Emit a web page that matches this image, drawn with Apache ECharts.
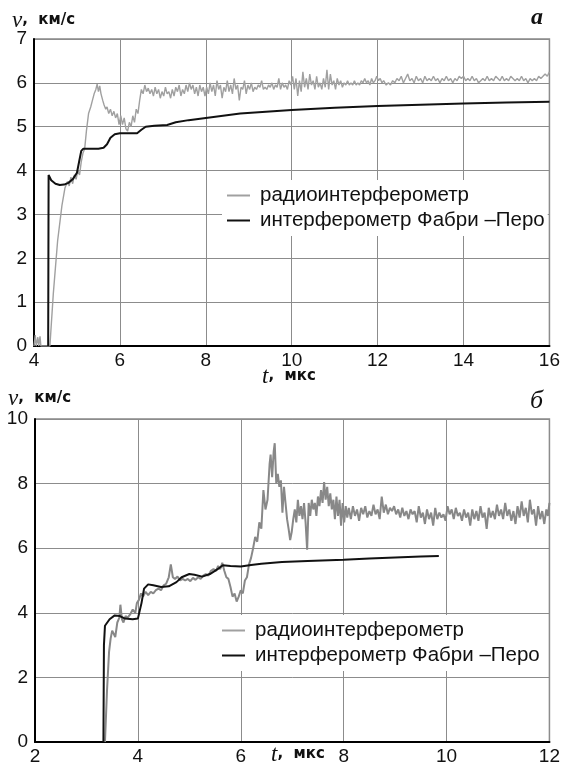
<!DOCTYPE html>
<html><head><meta charset="utf-8">
<script src="https://cdn.jsdelivr.net/npm/echarts@6/dist/echarts.min.js"></script>
<style>html,body{margin:0;padding:0;background:#fff}#c{width:563px;height:771px}</style>
</head><body><div id="c"></div>
<script>
// ---- panel a ----
const aRadio = [[4.0,0],[4.03,0.25],[4.05,0],[4.09,0.2],[4.11,0],[4.14,0.22],[4.16,0],[4.37,0],[4.45,1.2],[4.55,2.4],[4.65,3.2],[4.72,3.6],[4.78,3.75],[4.82,3.65],[4.86,3.85],[4.9,3.7],[4.94,3.9],[4.98,3.8],[5.02,4.0],[5.06,3.9],[5.1,4.2],[5.14,4.4],[5.18,4.5],[5.22,4.9],[5.27,5.3],[5.32,5.45],[5.36,5.6],[5.4,5.75],[5.44,5.85],[5.47,5.97],[5.5,5.8],[5.53,5.93],[5.56,5.75],[5.6,5.6],[5.63,5.5],[5.67,5.4],[5.7,5.45],[5.74,5.3],[5.78,5.4],[5.82,5.25],[5.86,5.35],[5.9,5.2],[5.94,5.3],[5.98,5.05],[6.02,5.25],[6.06,5.05],[6.1,5.2],[6.14,4.95],[6.18,4.9],[6.22,5.1],[6.26,5.0],[6.3,5.25],[6.34,5.1],[6.38,5.4],[6.42,5.3],[6.46,5.6],[6.5,5.85],[6.54,5.75],[6.58,5.95],[6.62,5.8],[6.66,5.88],[6.7,5.75],[6.74,5.85],[6.78,5.7],[6.82,5.9],[6.86,5.75],[6.9,5.85],[6.94,5.65],[6.98,5.8],[7.02,5.7],[7.06,5.9],[7.1,5.75],[7.14,5.8],[7.18,5.65],[7.22,5.85],[7.26,5.7],[7.3,5.9],[7.34,5.8],[7.38,5.95],[7.42,5.7],[7.46,5.85],[7.5,5.75],[7.54,5.95],[7.58,5.8],[7.62,6.0],[7.66,5.85],[7.7,5.95],[7.74,5.75],[7.78,5.9],[7.82,5.7],[7.86,5.95],[7.9,5.8],[7.94,5.9],[7.98,5.7],[8.02,5.9],[8.06,5.75],[8.1,6.0],[8.14,5.8],[8.18,5.95],[8.22,5.7],[8.26,6.05],[8.3,5.85],[8.34,5.95],[8.38,5.65],[8.42,5.9],[8.46,5.8],[8.5,6.05],[8.54,5.8],[8.58,5.95],[8.62,5.75],[8.66,6.1],[8.7,5.85],[8.74,5.95],[8.78,5.6],[8.82,5.9],[8.86,5.85],[8.9,6.05],[8.94,5.75],[8.98,5.95],[9.02,5.85],[9.06,6.0],[9.1,5.8],[9.14,5.9],[9.18,5.85],[9.22,5.95],[9.26,5.9],[9.3,6.05],[9.34,5.85],[9.38,5.9],[9.42,5.85],[9.46,5.95],[9.5,5.9],[9.54,6.0],[9.58,5.85],[9.62,5.95],[9.66,5.9],[9.7,6.1],[9.74,5.85],[9.78,6.0],[9.82,5.9],[9.86,5.95],[9.9,5.85],[9.94,6.05],[9.98,5.95],[10.02,6.15],[10.06,5.85],[10.1,6.1],[10.14,5.7],[10.18,6.05],[10.22,5.8],[10.26,6.25],[10.3,5.9],[10.34,6.1],[10.38,5.85],[10.42,6.2],[10.46,5.95],[10.5,6.05],[10.54,5.85],[10.58,6.15],[10.62,5.9],[10.66,6.0],[10.7,5.85],[10.74,6.1],[10.78,5.9],[10.82,6.3],[10.86,5.85],[10.9,6.2],[10.94,5.95],[10.98,6.05],[11.02,5.85],[11.06,6.1],[11.1,5.95],[11.14,6.05],[11.18,5.9],[11.22,6.0],[11.26,5.95],[11.3,6.05],[11.34,5.95],[11.38,6.0],[11.42,5.95],[11.46,6.05],[11.5,5.95],[11.54,6.0],[11.58,5.95],[11.62,6.05],[11.66,6.0],[11.7,6.1],[11.74,6.0],[11.78,6.05],[11.82,5.95],[11.86,6.1],[11.9,6.0],[11.94,6.05],[11.98,6.15],[12.02,6.05],[12.06,6.1],[12.1,6.0],[12.14,6.05],[12.2,5.95],[12.25,6.0],[12.3,5.95],[12.35,6.05],[12.4,6.0],[12.45,6.1],[12.5,6.05],[12.55,6.15],[12.6,6.0],[12.65,6.1],[12.7,6.2],[12.75,6.05],[12.8,6.1],[12.85,6.0],[12.9,6.15],[12.95,6.05],[13.0,6.1],[13.05,6.0],[13.1,6.15],[13.15,6.05],[13.2,6.1],[13.25,6.05],[13.3,6.15],[13.35,6.05],[13.4,6.1],[13.45,6.0],[13.5,6.1],[13.55,6.05],[13.6,6.15],[13.65,6.05],[13.7,6.1],[13.75,6.0],[13.8,6.1],[13.85,6.05],[13.9,6.15],[13.95,6.1],[14.0,6.15],[14.05,6.05],[14.1,6.1],[14.15,6.05],[14.2,6.15],[14.25,6.05],[14.3,6.1],[14.35,6.0],[14.4,6.05],[14.45,6.1],[14.5,6.05],[14.55,6.15],[14.6,6.05],[14.65,6.1],[14.7,6.05],[14.75,6.15],[14.8,6.1],[14.85,6.05],[14.9,6.15],[14.95,6.05],[15.0,6.1],[15.05,6.05],[15.1,6.15],[15.15,6.1],[15.2,6.05],[15.25,6.1],[15.3,6.05],[15.35,6.15],[15.4,6.05],[15.45,6.1],[15.5,6.0],[15.55,6.1],[15.6,6.05],[15.65,6.1],[15.7,6.05],[15.75,6.15],[15.8,6.1],[15.85,6.15],[15.9,6.2],[15.95,6.15],[16.0,6.25]];
const aFP = [[4.33,0],[4.34,3.9],[4.4,3.78],[4.5,3.7],[4.6,3.67],[4.7,3.68],[4.8,3.72],[4.9,3.8],[5.0,3.95],[5.05,4.2],[5.1,4.45],[5.15,4.5],[5.3,4.5],[5.5,4.5],[5.62,4.52],[5.7,4.6],[5.78,4.75],[5.88,4.83],[6.0,4.85],[6.4,4.85],[6.5,4.93],[6.6,5.0],[6.8,5.02],[7.1,5.04],[7.3,5.1],[7.6,5.15],[8.0,5.2],[8.8,5.3],[10,5.38],[11,5.43],[12,5.47],[13,5.5],[14,5.53],[15,5.55],[16,5.57]];
// ---- panel б ----
const bRadio = [[3.36,0],[3.4,1.6],[3.44,2.8],[3.47,3.2],[3.5,3.45],[3.53,3.35],[3.56,3.25],[3.6,3.7],[3.64,3.85],[3.66,4.25],[3.69,3.8],[3.72,3.7],[3.76,3.9],[3.8,3.85],[3.85,3.95],[3.9,4.1],[3.95,4.0],[3.98,4.3],[4.02,4.4],[4.06,4.6],[4.1,4.5],[4.15,4.65],[4.2,4.55],[4.25,4.65],[4.3,4.6],[4.35,4.7],[4.4,4.75],[4.45,4.7],[4.5,4.85],[4.55,4.9],[4.6,5.1],[4.64,5.5],[4.68,5.1],[4.72,5.05],[4.77,5.12],[4.82,5.0],[4.87,5.05],[4.92,5.0],[4.97,5.05],[5.02,4.98],[5.07,5.08],[5.12,5.02],[5.17,5.1],[5.22,5.05],[5.27,5.15],[5.32,5.2],[5.37,5.15],[5.42,5.3],[5.47,5.35],[5.52,5.3],[5.56,5.45],[5.6,5.35],[5.64,5.55],[5.68,5.3],[5.72,5.1],[5.76,5.05],[5.8,4.8],[5.84,4.5],[5.88,4.6],[5.92,4.35],[5.96,4.5],[6.0,4.7],[6.04,4.6],[6.08,5.0],[6.12,5.1],[6.16,5.5],[6.2,5.7],[6.24,6.0],[6.28,6.35],[6.32,6.2],[6.36,6.8],[6.4,6.6],[6.44,7.8],[6.48,7.2],[6.52,7.5],[6.56,8.6],[6.58,8.9],[6.61,8.2],[6.64,9.0],[6.66,9.25],[6.69,8.0],[6.72,8.3],[6.75,7.9],[6.78,8.1],[6.81,7.1],[6.84,7.9],[6.87,7.4],[6.9,6.9],[6.93,6.6],[6.96,6.25],[6.99,6.5],[7.02,6.9],[7.05,7.2],[7.08,6.8],[7.11,7.5],[7.14,7.0],[7.17,7.3],[7.2,6.9],[7.23,7.4],[7.26,6.8],[7.29,5.95],[7.32,7.4],[7.35,7.0],[7.38,7.5],[7.41,7.2],[7.44,7.4],[7.47,7.0],[7.5,7.6],[7.53,7.3],[7.56,7.8],[7.59,7.4],[7.62,8.05],[7.65,7.5],[7.68,7.9],[7.71,7.3],[7.74,7.7],[7.77,7.2],[7.8,7.5],[7.83,6.9],[7.86,7.6],[7.89,7.0],[7.92,7.5],[7.95,6.7],[7.98,7.4],[8.01,6.8],[8.04,7.3],[8.07,6.95],[8.1,7.25],[8.14,6.9],[8.18,7.3],[8.22,7.0],[8.26,7.2],[8.3,6.85],[8.34,7.25],[8.38,7.05],[8.42,7.3],[8.46,6.95],[8.5,7.15],[8.54,7.0],[8.58,7.35],[8.62,7.05],[8.66,7.2],[8.7,6.9],[8.74,7.6],[8.78,7.1],[8.82,7.35],[8.86,7.05],[8.9,7.25],[8.94,7.15],[8.98,7.3],[9.02,7.05],[9.06,7.2],[9.1,6.95],[9.14,7.25],[9.18,7.0],[9.22,7.15],[9.26,6.9],[9.3,7.2],[9.34,7.05],[9.38,7.15],[9.42,6.8],[9.46,7.3],[9.5,6.95],[9.54,7.1],[9.58,6.75],[9.62,7.2],[9.66,6.9],[9.7,7.1],[9.74,6.7],[9.78,7.25],[9.82,6.9],[9.86,7.1],[9.9,6.95],[9.94,7.05],[9.98,6.85],[10.02,7.3],[10.06,7.05],[10.1,7.2],[10.14,6.9],[10.18,7.25],[10.22,7.0],[10.26,7.1],[10.3,6.85],[10.34,7.2],[10.38,6.95],[10.42,7.1],[10.46,6.7],[10.5,7.2],[10.54,6.9],[10.58,7.15],[10.62,6.85],[10.66,7.3],[10.7,6.95],[10.74,7.1],[10.78,6.6],[10.82,7.25],[10.86,6.95],[10.9,7.15],[10.94,6.9],[10.98,7.35],[11.02,7.0],[11.06,7.2],[11.1,6.9],[11.14,7.4],[11.18,7.0],[11.22,7.2],[11.26,6.85],[11.3,7.15],[11.34,6.75],[11.38,7.3],[11.42,6.95],[11.46,7.45],[11.5,7.0],[11.54,7.25],[11.58,6.8],[11.62,7.5],[11.66,7.05],[11.7,7.2],[11.74,6.7],[11.78,7.3],[11.82,6.9],[11.86,7.15],[11.9,6.75],[11.94,7.2],[11.97,7.0],[12.0,7.4]];
const bFP = [[3.33,0],[3.34,3.0],[3.36,3.6],[3.45,3.8],[3.55,3.92],[3.65,3.9],[3.75,3.82],[3.9,3.8],[4.0,3.82],[4.07,4.3],[4.12,4.75],[4.2,4.88],[4.3,4.85],[4.45,4.8],[4.6,4.82],[4.75,4.95],[4.85,5.1],[5.0,5.2],[5.1,5.18],[5.25,5.12],[5.4,5.2],[5.55,5.35],[5.65,5.47],[5.8,5.45],[6.0,5.43],[6.2,5.48],[6.4,5.52],[6.8,5.57],[7.3,5.6],[8.0,5.64],[8.5,5.68],[9.0,5.71],[9.5,5.74],[9.85,5.76]];

const nameRadio = 'радиоинтерферометр';
const nameFP = 'интерферометр Фабри –Перо';

const chart = echarts.init(document.getElementById('c'), null, {renderer:'canvas'});
const lbl = {fontFamily:'Liberation Sans, Arial, sans-serif', fontSize:19, color:'#111'};
const axLine = {show:true, lineStyle:{color:'#000', width:2}};
const split = {show:true, lineStyle:{color:'#8c8c8c', width:1}};
function xAx(grid, min, max){return {type:'value', gridIndex:grid, min, max, interval:2, axisLine:axLine, axisTick:{show:false}, splitLine:split, axisLabel:Object.assign({margin:5}, lbl)};}
function yAx(grid, min, max, iv){return {type:'value', gridIndex:grid, min, max, interval:iv, axisLine:axLine, axisTick:{show:false}, splitLine:split, axisLabel:Object.assign({margin:7}, lbl)};}
const legendBase = {orient:'vertical', backgroundColor:'#fff', itemWidth:23, itemHeight:2, itemGap:4, icon:'rect',
  padding:[5,3,5,5], textStyle:{fontFamily:'Liberation Sans, Arial, sans-serif', fontSize:20.5, color:'#111', padding:[0,0,0,5]}, selectedMode:false, z:1};
function axisName(x, y, txt){return {type:'text', left:x, top:y, style:{rich:{v:{fontFamily:'Liberation Serif, serif', fontStyle:'italic', fontSize:23, fill:'#111'}, s:{fontFamily:'DejaVu Sans, sans-serif', fontSize:15, fill:'#111', fontWeight:'bold'}}, text:txt}};}
chart.setOption({
  animation:false,
  backgroundColor:'#fff',
  grid:[
    {left:34, right:5, top:39, height:307, show:true, borderColor:'#888', borderWidth:1.5},
    {left:35, right:6, top:419, height:323, show:true, borderColor:'#888', borderWidth:1.5}
  ],
  xAxis:[xAx(0,4,16), xAx(1,2,12)],
  yAxis:[yAx(0,0,7,1), yAx(1,0,10,2)],
  legend:[
    Object.assign({}, legendBase, {left:222, top:180, data:[nameRadio, nameFP]}),
    Object.assign({}, legendBase, {left:217, top:615, data:[nameRadio, nameFP]})
  ],
  series:[
    {type:'line', name:nameRadio, xAxisIndex:0, yAxisIndex:0, data:aRadio, showSymbol:false, lineStyle:{color:'#a0a0a0', width:1.4}, itemStyle:{color:'#a0a0a0'}},
    {type:'line', name:nameFP, xAxisIndex:0, yAxisIndex:0, data:aFP, showSymbol:false, lineStyle:{color:'#111', width:2}, itemStyle:{color:'#111'}},
    {type:'line', name:nameRadio, xAxisIndex:1, yAxisIndex:1, data:bRadio, showSymbol:false, lineStyle:{color:'#888', width:2}, itemStyle:{color:'#888'}},
    {type:'line', name:nameFP, xAxisIndex:1, yAxisIndex:1, data:bFP, showSymbol:false, lineStyle:{color:'#111', width:2}, itemStyle:{color:'#111'}}
  ],
  graphic:[
    axisName(12, 9, '{v|v}{s|,  км/с}'),
    axisName(262, 365, '{v|t}{s|,  мкс}'),
    axisName(8, 387, '{v|v}{s|,  км/с}'),
    axisName(271, 743, '{v|t}{s|,  мкс}'),
    {type:'text', left:531, top:6, style:{text:'а', fontFamily:'Liberation Serif, serif', fontStyle:'italic', fontWeight:'bold', fontSize:24, fill:'#111'}},
    {type:'text', left:530, top:388, style:{text:'б', fontFamily:'Liberation Serif, serif', fontStyle:'italic', fontSize:26, fill:'#111'}}
  ]
});
</script></body></html>
